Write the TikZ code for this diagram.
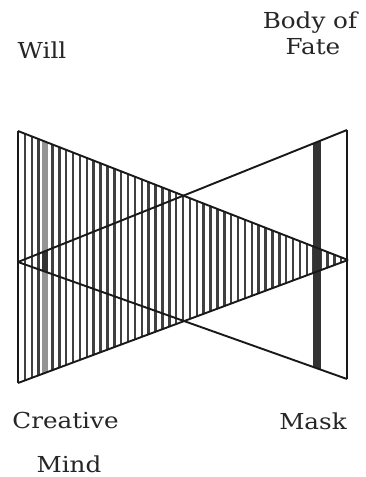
\documentclass[tikz,border=0pt]{standalone}
\usepackage{fontspec}
\setmainfont{DejaVu Serif}[FakeStretch=1.12]
\begin{document}
\begin{tikzpicture}[x=1pt,y=-1pt,
  outline/.style={draw=black!90,line width=1.9pt,line join=miter},
  hatch/.style={draw=black!75,line width=2.5pt},
  lbl/.style={font=\fontsize{22}{26}\selectfont,text=black!85,inner sep=0pt,anchor=base}]
\useasboundingbox (0,0) rectangle (365,477);
\fill[white] (0,0) rectangle (365,477);
% corners
\coordinate (A) at (18,131);
\coordinate (B) at (18,383);
\coordinate (C) at (348,260);
\coordinate (D) at (347,130);
\coordinate (E) at (347,379);
\coordinate (F) at (18,262);
% hatching of the Will cone
\begin{scope}
  \clip (A) -- (C) -- (B) -- cycle;
  \foreach \x in {18,24.875,...,349} \draw[hatch] (\x,100) -- (\x,400);
  % light bar
  \fill[black!42] (42,100) rectangle (48,400);
\end{scope}
% dark bars
\begin{scope}
  \clip (D) -- (F) -- (E) -- cycle;
  \fill[black!80] (42,100) rectangle (48,400);
  \fill[black!80] (313,100) rectangle (321,400);
\end{scope}
% outlines
\draw[outline] (A) -- (B);
\draw[outline] (A) -- (C);
\draw[outline] (B) -- (C);
\draw[outline] (D) -- (E);
\draw[outline] (D) -- (F);
\draw[outline] (E) -- (F);
% labels
\node[lbl] (will) at (42,58) {Will};
\node[lbl] (body) at (310,28) {Body of};
\node[lbl] (fate) at (313,54) {Fate};
\node[lbl] (creative) at (65.5,428) {Creative};
\node[lbl] (mind) at (69,472) {Mind};
\node[lbl] (mask) at (313,429) {Mask};
\end{tikzpicture}
\end{document}
